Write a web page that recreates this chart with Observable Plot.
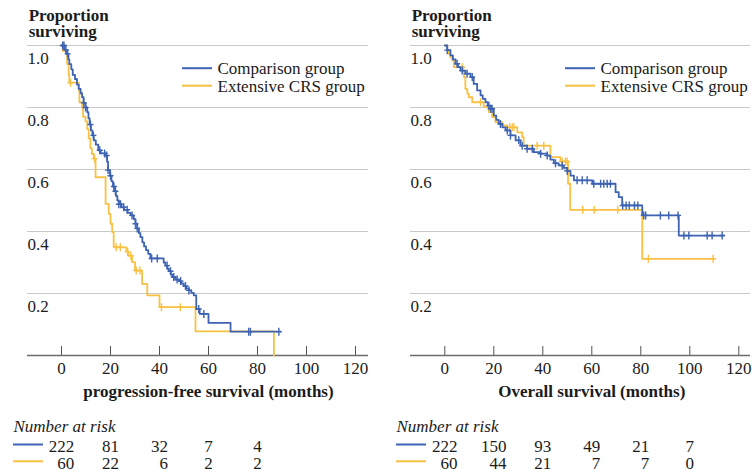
<!DOCTYPE html>
<html><head><meta charset="utf-8">
<script src="https://cdn.jsdelivr.net/npm/d3@7"></script>
<script src="https://cdn.jsdelivr.net/npm/@observablehq/plot@0.6"></script>
<style>
html,body{margin:0;padding:0;background:#fff;}
#wrap{display:flex;width:755px;height:474px;overflow:hidden;}
#wrap > div{flex:none;}
svg{display:block;}
</style></head><body><div id="wrap"><div id="left" style="width:377px"></div><div id="right" style="width:378px"></div></div>
<script>
// ---------- data ----------
const groups = ["Comparison group", "Extensive CRS group"];
const xTicks = [0, 20, 40, 60, 80, 100, 120];
const yTicks = [0.2, 0.4, 0.6, 0.8, 1.0];
const yTickLabels = ["0.2", "0.4", "0.6", "0.8", "1.0"];
const pfsLabel = "progression-free survival (months)";
const osLabel = "Overall survival (months)";
const riskTitle = "Number at risk";

// PFS, comparison group (step points: time, survival)
const pfsCompT = [0,1.2,2.0,2.8,3.2,4.0,4.6,5.5,6.3,7.0,7.8,8.4,9.0,9.8,10.5,11.0,11.5,12.0,12.6,13.2,14.0,15.0,16.0,18.0,18.6,19.0,19.8,20.4,21.0,21.6,22.2,22.8,23.4,24.5,25.5,27.0,28.3,29.5,30.2,30.9,31.6,32.2,33.0,33.7,34.5,35.4,36.3,41.7,42.4,43.2,43.8,44.6,45.2,46.5,47.9,49.0,49.9,51.0,52.0,53.0,54.0,55.0,56.4,60.0,69.0,89.4];
const pfsCompS = [1,0.986,0.973,0.955,0.94,0.923,0.905,0.892,0.874,0.86,0.846,0.833,0.815,0.80,0.785,0.765,0.745,0.726,0.71,0.694,0.68,0.662,0.652,0.645,0.625,0.598,0.58,0.562,0.545,0.53,0.515,0.50,0.488,0.478,0.47,0.46,0.452,0.44,0.425,0.41,0.395,0.382,0.365,0.352,0.34,0.328,0.313,0.30,0.29,0.28,0.272,0.262,0.253,0.245,0.24,0.232,0.224,0.216,0.21,0.202,0.194,0.15,0.134,0.105,0.077,0.077];
const pfsCompCens = [0.5,1.0,1.8,2.5,9.1,9.8,11.8,13.0,15.6,17.6,18.4,19.0,20.0,21.4,22.0,23.4,24.1,25.4,26.8,28.8,30.2,30.9,36.8,39.1,43.1,44.5,45.8,47.2,48.6,50.6,52.0,56.0,58.1,76.4,77.1,88.7];

// PFS, extensive CRS group
const pfsExtT = [0,0.5,2.3,2.9,3.2,7.1,7.3,8.4,8.8,9.8,10.5,11.1,11.8,12.4,13.2,13.9,18.0,19.3,20.0,20.7,21.3,26.5,27.2,28.8,30.0,32.9,35.0,40.0,54.7,86.7];
const pfsExtS = [1,0.983,0.94,0.905,0.88,0.855,0.817,0.80,0.77,0.755,0.73,0.70,0.668,0.65,0.635,0.575,0.489,0.457,0.425,0.398,0.349,0.335,0.322,0.301,0.274,0.231,0.194,0.156,0.078,0];
const pfsExtCens = [3.7,13.5,22.3,24.0,27.0,28.3,30.5,32.0,40.8,48.5];

// OS, comparison group
const osCompT = [0,1.0,2.3,3.3,4.4,5.4,6.4,8.4,10.5,11.8,13.2,14.6,15.5,16.6,17.6,18.7,20.0,21.0,22.0,23.5,24.8,26.8,28.9,30.9,33.6,36.3,39.1,41.8,43.1,44.5,46.5,48.5,50.0,51.3,52.7,60.2,69.7,71.0,72.4,80.6,95.5,113.9];
const osCompS = [1,0.985,0.968,0.955,0.941,0.93,0.919,0.909,0.898,0.876,0.855,0.839,0.828,0.817,0.806,0.796,0.774,0.76,0.747,0.736,0.726,0.71,0.694,0.677,0.667,0.656,0.651,0.645,0.632,0.62,0.613,0.605,0.595,0.58,0.565,0.554,0.527,0.511,0.484,0.452,0.387,0.387];
const osCompCens = [1.0,5.0,7.1,9.1,11.2,18.0,18.7,19.3,22.7,25.5,26.8,30.2,31.6,33.6,35.7,39.1,41.8,45.2,47.9,50.0,54.0,56.1,58.1,60.8,63.6,64.9,66.3,67.6,72.6,74.0,75.3,77.4,78.8,81.2,82.0,88.0,91.4,95.2,97.6,99.6,107.1,109.1,113.2];

// OS, extensive CRS group
const osExtT = [0,1.0,1.6,2.3,3.0,3.7,7.5,7.8,8.4,9.2,9.8,11.2,15.9,18.0,19.3,20.7,23.4,25.5,29.6,31.6,32.2,43.1,47.2,50.3,51.2,80.6,109.8];
const osExtS = [1,0.985,0.973,0.962,0.952,0.93,0.915,0.898,0.86,0.845,0.833,0.817,0.801,0.785,0.769,0.753,0.742,0.736,0.72,0.704,0.677,0.64,0.626,0.554,0.47,0.312,0.312];
const osExtCens = [7.1,14.6,26.5,27.5,28.2,37.7,40.4,47.9,49.3,49.9,56.3,61.0,70.6,83.1,109.5];

// Numbers at risk
const pfsRiskTimes = [0, 20, 40, 60, 80];
const pfsRiskComp = [222, 81, 32, 7, 4];
const pfsRiskExt = [60, 22, 6, 2, 2];
const osRiskTimes = [0, 20, 40, 60, 80, 100];
const osRiskComp = [222, 150, 93, 49, 21, 7];
const osRiskExt = [60, 44, 21, 7, 7, 0];

// ---------- styling ----------
const colors = ["#3d63b2", "#f8c143"];
const textColor = "#1b1b1b";
const font = "'Liberation Serif', 'Times New Roman', Times, serif";

const censorSymbol = {
  draw(ctx) { ctx.moveTo(0, -4); ctx.lineTo(0, 4); ctx.moveTo(-3, 0); ctx.lineTo(3, 0); }
};

function pts(T, S) { return T.map((t, i) => ({t, s: S[i]})); }
function stepAt(T, S, t) { let v = S[0]; for (let i = 0; i < T.length; i++) { if (T[i] <= t) v = S[i]; } return v; }
function cens(T, S, C) { return C.map(t => ({t, s: stepAt(T, S, t)})); }

function panel(opts) {
  const {width, marginLeft, marginRight, xDomain, series, riskTimes, riskRows, xLabel} = opts;
  const height = 474, marginTop = 45, marginBottom = 119;
  const fw = width - marginLeft - marginRight;
  const fh = height - marginTop - marginBottom;
  const marks = [
    Plot.ruleY(yTicks, {stroke: "#c9c9c9", strokeWidth: 1}),
    Plot.text(yTicks, {y: d => d, text: (d, i) => yTickLabels[i], frameAnchor: "left", textAnchor: "start", lineAnchor: "middle", dy: 12.6, fill: textColor}),
    Plot.ruleY([0], {stroke: "#6b6b6b", strokeWidth: 1.6}),
    Plot.ruleX(xTicks, {stroke: "#555", strokeWidth: 1, insetTop: fh - 9}),
    Plot.axisX({ticks: xTicks, tickSize: 0, tickPadding: 6, label: null, tickFormat: d => String(d), fill: textColor}),
    Plot.text([xLabel], {x: 60, frameAnchor: "bottom", lineAnchor: "middle", dy: 35.8, fontWeight: "bold", fill: textColor}),
    Plot.text(["Proportion\nsurviving"], {frameAnchor: "top-left", textAnchor: "start", lineAnchor: "bottom", lineHeight: 0.95, dx: 1.2, dy: -8.3, fontWeight: "bold", fill: textColor}),
  ];
  // curves: draw extensive (yellow) first, comparison on top
  [1, 0].forEach(g => {
    const sr = series[g];
    marks.push(Plot.line(pts(sr.T, sr.S), {x: "t", y: "s", curve: "step-after", stroke: colors[g], strokeWidth: 1.8}));
    marks.push(Plot.dot(cens(sr.T, sr.S, sr.C), {x: "t", y: "s", symbol: censorSymbol, stroke: colors[g], strokeWidth: 1.4, r: 4}));
  });
  // legend
  groups.forEach((name, i) => {
    marks.push(Plot.ruleY([1], {stroke: colors[i], strokeWidth: 2, dy: 22.7 + i * 17.5, insetLeft: 155, insetRight: fw - 185}));
    marks.push(Plot.text([name], {frameAnchor: "top-left", textAnchor: "start", lineAnchor: "middle", dx: 190, dy: 22.9 + i * 17.7, fill: textColor}));
  });
  // number at risk table
  marks.push(Plot.text([riskTitle], {frameAnchor: "bottom-left", textAnchor: "start", lineAnchor: "middle", dx: -14, dy: 70.6, fontStyle: "italic", fill: textColor}));
  riskRows.forEach((row, r) => {
    marks.push(Plot.ruleY([0], {stroke: colors[r], strokeWidth: 2, dy: 89 + r * 16.8, insetLeft: -14, insetRight: fw - 16}));
    riskTimes.forEach((t, j) => {
      const ref = String(riskRows[0][j]).length * 4.25;
      marks.push(Plot.text([{t, n: row[j]}], {x: "t", text: d => String(d.n), frameAnchor: "bottom", lineAnchor: "middle", textAnchor: "end", dx: ref, dy: 91.2 + r * 16.7, fill: textColor}));
    });
  });
  return Plot.plot({
    width, height, marginTop, marginBottom, marginLeft, marginRight,
    style: {fontFamily: font, fontSize: "17px", color: textColor, background: "#fff", overflow: "visible"},
    x: {domain: xDomain},
    y: {domain: [0, 1], axis: null},
    marks
  });
}

document.getElementById("left").appendChild(panel({
  width: 377, marginLeft: 27, marginRight: 9, xDomain: [-34 / 2.45, 307 / 2.45],
  series: [{T: pfsCompT, S: pfsCompS, C: pfsCompCens}, {T: pfsExtT, S: pfsExtS, C: pfsExtCens}],
  riskTimes: pfsRiskTimes, riskRows: [pfsRiskComp, pfsRiskExt], xLabel: pfsLabel
}));
document.getElementById("right").appendChild(panel({
  width: 378, marginLeft: 33, marginRight: 5, xDomain: [-34.3 / 2.45, 305.7 / 2.45],
  series: [{T: osCompT, S: osCompS, C: osCompCens}, {T: osExtT, S: osExtS, C: osExtCens}],
  riskTimes: osRiskTimes, riskRows: [osRiskComp, osRiskExt], xLabel: osLabel
}));
</script>
</body></html>
